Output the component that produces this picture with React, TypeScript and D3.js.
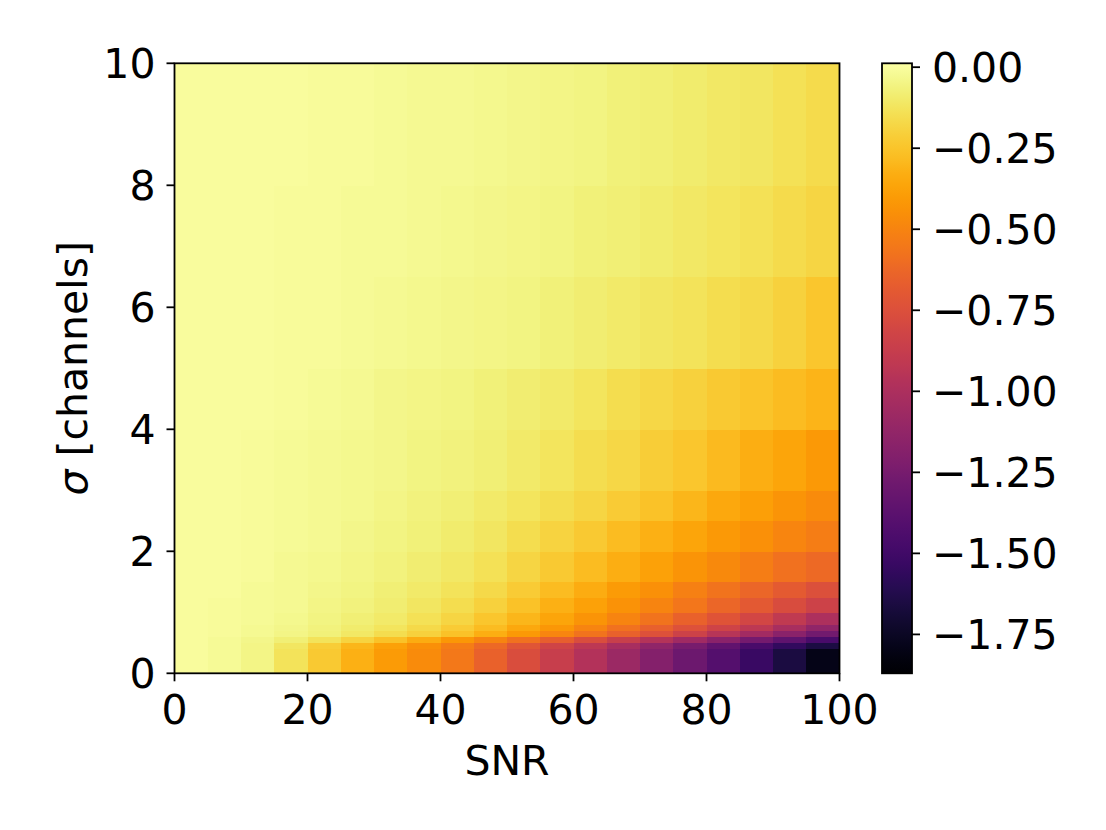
import { useMemo } from 'react';
import * as d3 from 'd3';

// SNR bin edges (x) and sigma bin edges (y) of the heatmap
const snrEdges = [0, 5, 10, 15, 20, 25, 30, 35, 40, 45, 50, 55, 60, 65, 70, 75, 80, 85, 90, 95, 100];
const sigmaEdges = [0, 0.4, 0.5, 0.6, 0.7, 0.8, 1.0, 1.25, 1.5, 2.0, 2.5, 3.0, 4.0, 5.0, 6.5, 8.0, 10.0];

// one row of values per sigma bin, bottom to top, one value per SNR bin
const rowSigma00 = [-0.01, -0.02, -0.05, -0.13, -0.23, -0.32, -0.4, -0.47, -0.55, -0.65, -0.76, -0.87, -0.97, -1.08, -1.19, -1.3, -1.41, -1.53, -1.66, -1.79];
const rowSigma04 = [-0.01, -0.02, -0.05, -0.12, -0.21, -0.3, -0.38, -0.45, -0.53, -0.62, -0.72, -0.82, -0.92, -1.02, -1.13, -1.24, -1.35, -1.46, -1.56, -1.65];
const rowSigma05 = [-0.008, -0.018, -0.04, -0.08, -0.13, -0.19, -0.26, -0.34, -0.42, -0.5, -0.58, -0.67, -0.76, -0.86, -0.96, -1.06, -1.16, -1.26, -1.36, -1.46];
const rowSigma06 = [-0.007, -0.014, -0.028, -0.048, -0.075, -0.11, -0.15, -0.2, -0.26, -0.33, -0.41, -0.49, -0.57, -0.65, -0.74, -0.84, -0.95, -1.05, -1.16, -1.27];
const rowSigma07 = [-0.007, -0.013, -0.025, -0.042, -0.065, -0.092, -0.125, -0.165, -0.22, -0.28, -0.35, -0.42, -0.5, -0.58, -0.66, -0.74, -0.83, -0.92, -1.02, -1.13];
const rowSigma08 = [-0.006, -0.012, -0.022, -0.036, -0.055, -0.078, -0.105, -0.14, -0.185, -0.24, -0.3, -0.37, -0.43, -0.5, -0.57, -0.65, -0.73, -0.81, -0.9, -1.0];
const rowSigma10 = [-0.006, -0.011, -0.02, -0.032, -0.048, -0.066, -0.088, -0.115, -0.15, -0.2, -0.26, -0.32, -0.38, -0.44, -0.5, -0.56, -0.63, -0.7, -0.77, -0.84];
const rowSigma125 = [-0.006, -0.01, -0.018, -0.028, -0.042, -0.058, -0.078, -0.1, -0.13, -0.17, -0.22, -0.28, -0.34, -0.4, -0.45, -0.51, -0.57, -0.63, -0.69, -0.75];
const rowSigma15 = [-0.005, -0.009, -0.016, -0.025, -0.037, -0.05, -0.066, -0.085, -0.11, -0.14, -0.18, -0.225, -0.28, -0.33, -0.38, -0.43, -0.48, -0.53, -0.58, -0.62];
const rowSigma20 = [-0.005, -0.008, -0.014, -0.022, -0.032, -0.044, -0.058, -0.075, -0.095, -0.12, -0.15, -0.19, -0.23, -0.275, -0.32, -0.37, -0.41, -0.45, -0.49, -0.53];
const rowSigma25 = [-0.005, -0.008, -0.013, -0.02, -0.028, -0.038, -0.05, -0.065, -0.08, -0.1, -0.125, -0.155, -0.185, -0.22, -0.26, -0.3, -0.35, -0.39, -0.43, -0.47];
const rowSigma30 = [-0.005, -0.008, -0.012, -0.018, -0.025, -0.033, -0.043, -0.055, -0.068, -0.082, -0.1, -0.125, -0.15, -0.178, -0.21, -0.245, -0.285, -0.33, -0.37, -0.41];
const rowSigma40 = [-0.005, -0.007, -0.01, -0.015, -0.022, -0.03, -0.04, -0.05, -0.06, -0.072, -0.088, -0.105, -0.125, -0.15, -0.175, -0.2, -0.225, -0.25, -0.28, -0.31];
const rowSigma50 = [-0.005, -0.007, -0.01, -0.013, -0.017, -0.022, -0.028, -0.035, -0.042, -0.05, -0.06, -0.072, -0.085, -0.1, -0.115, -0.13, -0.15, -0.17, -0.2, -0.24];
const rowSigma65 = [-0.005, -0.006, -0.01, -0.012, -0.015, -0.018, -0.022, -0.028, -0.035, -0.042, -0.05, -0.06, -0.07, -0.082, -0.095, -0.11, -0.125, -0.14, -0.16, -0.185];
const rowSigma80 = [-0.005, -0.005, -0.008, -0.01, -0.012, -0.015, -0.02, -0.025, -0.03, -0.035, -0.04, -0.05, -0.06, -0.07, -0.08, -0.095, -0.11, -0.12, -0.14, -0.16];

const rows = [
  rowSigma00, rowSigma04, rowSigma05, rowSigma06, rowSigma07, rowSigma08, rowSigma10, rowSigma125,
  rowSigma15, rowSigma20, rowSigma25, rowSigma30, rowSigma40, rowSigma50, rowSigma65, rowSigma80,
];

const xTicks = [0, 20, 40, 60, 80, 100];
const yTicks = [0, 2, 4, 6, 8, 10];
const cbarTicks = [0, -0.25, -0.5, -0.75, -1.0, -1.25, -1.5, -1.75];
const valueRange = [-1.87, 0.012];

const WIDTH = 1106;
const HEIGHT = 830;
const plot = { left: 174.5, right: 839.5, top: 63.3, bottom: 673.3 };
const cbar = { left: 882, right: 912 };
const FONT = '"DejaVu Sans", sans-serif';
const FS = 41;

export default function App() {
  const x = d3.scaleLinear().domain([0, 100]).range([plot.left, plot.right]);
  const y = d3.scaleLinear().domain([0, 10]).range([plot.bottom, plot.top]);
  const color = d3.scaleSequential(d3.interpolateInferno).domain(valueRange);
  const cy = d3.scaleLinear().domain(valueRange).range([plot.bottom, plot.top]);
  const fmt = d3.format('.2f');

  const cells = useMemo(() => {
    const out = [];
    rows.forEach((row, j) => {
      row.forEach((v, i) => {
        out.push({ x0: snrEdges[i], x1: snrEdges[i + 1], y0: sigmaEdges[j], y1: sigmaEdges[j + 1], v });
      });
    });
    return out;
  }, []);

  const stops = d3.range(0, 1.0001, 0.02);

  return (
    <div style={{ position: 'absolute', left: 0, top: 0 }}>
      <style>{'body{margin:0}'}</style>
      <svg width={WIDTH} height={HEIGHT} style={{ display: 'block', background: '#fff' }} fontFamily={FONT}>
        <defs>
          <linearGradient id="cbarGrad" x1="0" y1="1" x2="0" y2="0">
            {stops.map((t) => (
              <stop key={t} offset={t} stopColor={d3.interpolateInferno(t)} />
            ))}
          </linearGradient>
        </defs>

        {/* heatmap */}
        <g shapeRendering="crispEdges">
          {cells.map((c, k) => (
            <rect
              key={k}
              x={x(c.x0)}
              y={y(c.y1)}
              width={x(c.x1) - x(c.x0) + 0.5}
              height={y(c.y0) - y(c.y1) + 0.5}
              fill={color(c.v)}
            />
          ))}
        </g>
        <rect x={plot.left} y={plot.top} width={plot.right - plot.left} height={plot.bottom - plot.top}
          fill="none" stroke="#000" strokeWidth={1.8} />

        {/* x axis */}
        {xTicks.map((t) => (
          <g key={t}>
            <line x1={x(t)} x2={x(t)} y1={plot.bottom} y2={plot.bottom + 8} stroke="#000" strokeWidth={1.8} />
            <text x={x(t)} y={plot.bottom + 51} textAnchor="middle" fontSize={FS}>{t}</text>
          </g>
        ))}
        <text x={(plot.left + plot.right) / 2} y={775} textAnchor="middle" fontSize={FS}>SNR</text>

        {/* y axis */}
        {yTicks.map((t) => (
          <g key={t}>
            <line x1={plot.left - 8} x2={plot.left} y1={y(t)} y2={y(t)} stroke="#000" strokeWidth={1.8} />
            <text x={plot.left - 19} y={y(t) + 15} textAnchor="end" fontSize={FS}>{t}</text>
          </g>
        ))}
        <text transform={`translate(87, ${(plot.top + plot.bottom) / 2}) rotate(-90)`} textAnchor="middle" fontSize={FS}>
          <tspan fontStyle="italic">σ</tspan> [channels]
        </text>

        {/* colorbar */}
        <rect x={cbar.left} y={plot.top} width={cbar.right - cbar.left} height={plot.bottom - plot.top}
          fill="url(#cbarGrad)" stroke="#000" strokeWidth={1.8} />
        {cbarTicks.map((t) => (
          <g key={t}>
            <line x1={cbar.right} x2={cbar.right + 8} y1={cy(t)} y2={cy(t)} stroke="#000" strokeWidth={1.8} />
            <text x={cbar.right + 20} y={cy(t) + 15} fontSize={FS}>{fmt(t)}</text>
          </g>
        ))}
      </svg>
    </div>
  );
}
